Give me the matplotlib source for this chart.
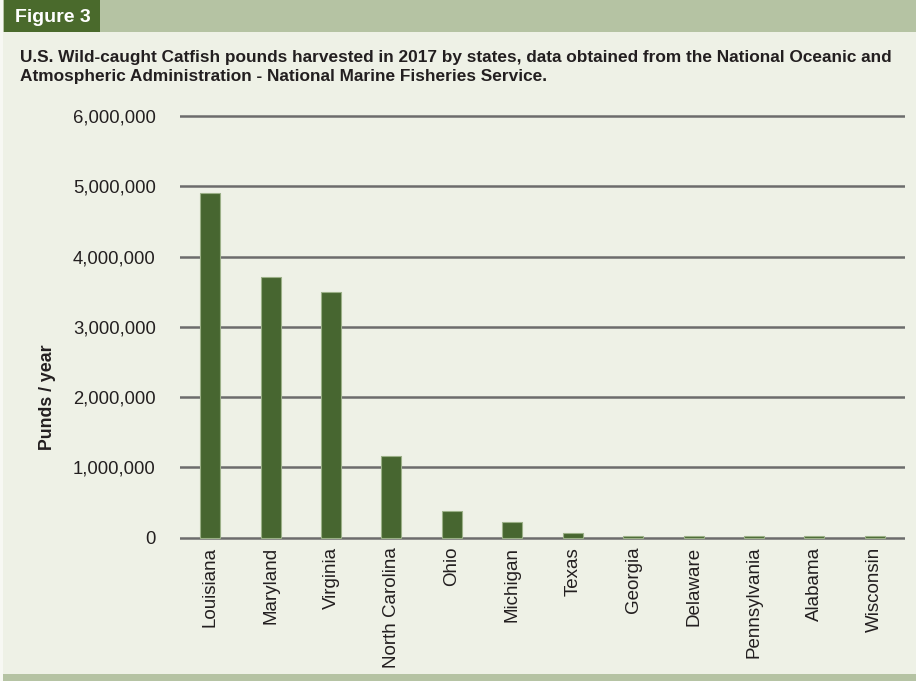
import matplotlib
matplotlib.use("Agg")
import matplotlib.pyplot as plt
from matplotlib.patches import Rectangle
from matplotlib.ticker import FuncFormatter

states = ["Louisiana", "Maryland", "Virginia", "North Carolina", "Ohio", "Michigan",
          "Texas", "Georgia", "Delaware", "Pennsylvania", "Alabama", "Wisconsin"]
pounds = [4900000, 3710000, 3500000, 1167000, 380000, 220000,
          70000, 25000, 25000, 25000, 25000, 25000]
yticks = [0, 1000000, 2000000, 3000000, 4000000, 5000000, 6000000]

title = ("U.S. Wild-caught Catfish pounds harvested in 2017 by states, data obtained from the National Oceanic and\n"
         "Atmospheric Administration - National Marine Fisheries Service.")

W, H = 916, 681
fig = plt.figure(figsize=(W / 100, H / 100), dpi=100)
bg = "#eef1e6"
sage = "#b5c3a3"
dark = "#4a6a2c"
fig.patch.set_facecolor(bg)

fam = ["Liberation Sans", "DejaVu Sans"]
ink = "#231f20"

# header band
fig.patches.append(Rectangle((0, 1 - 32 / H), 1, 32 / H, transform=fig.transFigure,
                             facecolor=sage, edgecolor="none", zorder=0))
fig.patches.append(Rectangle((4 / W, 1 - 32 / H), 96 / W, 32 / H, transform=fig.transFigure,
                             facecolor=dark, edgecolor="none", zorder=1))
fig.text(15 / W, 1 - 17 / H, "Figure 3", color="white", fontsize=14, fontweight="bold",
         family=fam, va="center", ha="left")
# bottom band
fig.patches.append(Rectangle((0, 0), 1, 7 / H, transform=fig.transFigure,
                             facecolor=sage, edgecolor="none", zorder=0))
# left light strip
fig.patches.append(Rectangle((0, 0), 3 / W, 1, transform=fig.transFigure,
                             facecolor="#f7f8f3", edgecolor="none", zorder=2))

fig.text(20 / W, 1 - 50 / H, title, fontsize=12.4, fontweight="bold", family=fam,
         color=ink, va="top", ha="left", linespacing=1.35)

# axes
left, right = 180 / W, 905 / W
bot_px, top_px = 541.2, 112.5
ax = fig.add_axes([left, 1 - bot_px / H, right - left, (bot_px - top_px) / H])
ax.set_facecolor("none")
x = list(range(len(states)))
ax.bar(x, pounds, width=0.33, color="#476630", edgecolor="#9bb087", linewidth=0.8, zorder=3)
ax.set_xlim(-0.5, len(states) - 0.5)
ax.set_ylim(-50000, 6050000)
ax.set_yticks(yticks)
ax.yaxis.set_major_formatter(FuncFormatter(lambda v, p: f"{int(v):,}"))
ax.grid(axis="y", color="#6c6c6c", linewidth=1.8, zorder=1)
ax.grid(axis="x", visible=False)
for s in ax.spines.values():
    s.set_visible(False)
ax.tick_params(axis="both", length=0)
ax.tick_params(axis="y", pad=17.5, labelsize=13.3, labelcolor=ink)
ax.set_xticks(x)
ax.set_xticklabels(states, rotation=90, fontsize=13.5, color=ink, family=fam)
ax.tick_params(axis="x", pad=4)
for lab in ax.get_yticklabels():
    lab.set_family(fam)

fig.text(47 / W, 1 - 397 / H, "Punds / year", rotation=90, fontsize=12.8, fontweight="bold",
         family=fam, color=ink, va="center", ha="center")

fig.savefig("out.png", dpi=100, facecolor=fig.get_facecolor())
